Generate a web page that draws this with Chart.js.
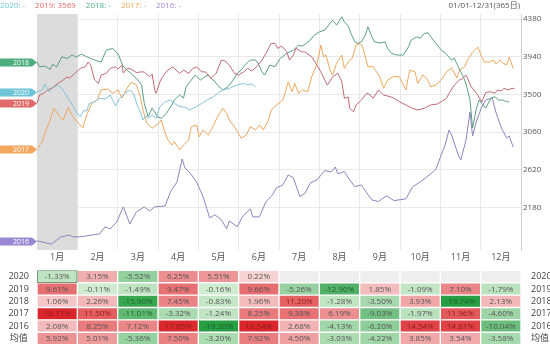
<!DOCTYPE html>
<html>
<head>
<meta charset="utf-8">
<script src="https://cdn.jsdelivr.net/npm/chart.js@4.4.1/dist/chart.umd.min.js"></script>
<style>
body { margin: 0; background: #fff; font-family: "Open Sans", "Noto Sans CJK SC", sans-serif; }
#wrap { position: relative; width: 550px; height: 352px; overflow: hidden; }
#legend { position: absolute; left: 0; top: 0; font-size: 8px; line-height: 10px; white-space: nowrap; }
#legend span { margin-right: 10px; }
#range { position: absolute; right: 30px; top: 0; font-size: 8px; line-height: 10px; color: #555; }
#lineChart { position: absolute; left: 0; top: 0; }
#tableChart { position: absolute; left: 0; top: 263px; }
</style>
</head>
<body>
<div id="wrap">
  <canvas id="lineChart" width="550" height="263"></canvas>
  <canvas id="tableChart" width="550" height="89"></canvas>
  <div id="legend"></div>
  <div id="range">01/01-12/31(365日)</div>
</div>
<script>
const monthLabels = ['1月', '2月', '3月', '4月', '5月', '6月', '7月', '8月', '9月', '10月', '11月', '12月'];
const yTicks = [2180, 2620, 3060, 3500, 3940, 4380];
const hoverDay = 365;

// day index within the year -> close
const days2020 = [0,4,6,9,12,16,19,23,27,30,33,36,38,40,44,48,52,56,60,63,67,71,74,77,79,81,83,85,88,91,94,98,102,105,109,113,117,119,122,126,130,135,138,142,147,153,158,161,164,167];
const vals2020 = [3531,3551,3621,3531,3574,3609,3571,3473,3376,3297,3239,3317,3305,3395,3414,3454,3446,3492,3364,3446,3512,3551,3504,3356,3297,3200,3247,3220,3259,3220,3356,3414,3434,3395,3356,3352,3317,3337,3356,3395,3434,3473,3512,3551,3571,3609,3629,3609,3621,3589];

const days2019 = [0,2,5,8,12,16,19,23,25,29,33,37,39,41,44,47,49,53,56,60,62,65,66,69,72,76,80,82,86,88,90,91,94,96,100,104,107,109,112,116,119,122,126,129,133,137,141,144,147,151,154,158,161,164,168,172,175,179,182,184,187,191,193,196,198,202,205,210,214,217,220,222,226,230,233,235,238,239,242,244,248,252,254,257,261,265,270,273,277,282,287,291,296,301,306,309,313,315,319,323,325,328,332,336,340,343,347,350,352,355,357,360,363,365];
const vals2019 = [3395,3492,3512,3551,3580,3629,3656,3703,3691,3746,3804,3823,3878,3843,3668,3629,3726,3746,3804,3823,3796,3843,3749,3804,3796,3755,3764,3761,3706,3738,3551,3512,3648,3706,3784,3823,3773,3746,3784,3746,3804,3819,3764,3761,3687,3749,3901,3889,3843,3746,3726,3764,3804,3773,3823,3901,3979,4096,4096,4038,4065,3998,3901,3960,4038,3998,3995,3940,3843,3764,3668,3609,3706,3746,3648,3454,3469,3337,3297,3376,3434,3512,3504,3454,3551,3492,3473,3454,3414,3376,3337,3317,3337,3376,3387,3414,3454,3512,3609,3668,3679,3726,3589,3512,3411,3522,3531,3512,3551,3539,3571,3551,3571,3569];

const days2018 = [0,2,6,10,12,15,19,23,27,30,34,38,44,49,53,58,62,66,71,76,80,82,85,88,90,92,95,99,103,105,109,112,114,118,121,125,128,131,133,136,138,142,146,150,153,156,159,163,167,169,172,174,178,182,186,191,196,200,203,209,212,216,220,224,226,229,233,235,238,240,243,245,248,251,253,256,258,262,266,268,271,275,280,284,286,290,293,296,299,301,305,309,313,317,319,322,326,328,331,333,336,338,341,343,347,350,353,356,359,361];
const vals2018 = [3881,3823,3831,3793,3854,3819,3940,3921,3960,3936,3971,3940,3901,3878,4018,4038,3971,3823,3755,3687,3609,3395,3239,3340,3297,3235,3220,3279,3376,3434,3492,3457,3589,3668,3726,3668,3703,3726,3687,3648,3609,3551,3589,3668,3746,3784,3843,3901,3901,3866,3764,3726,3843,3823,3921,3979,4018,4076,4065,4135,4193,4232,4252,4330,4368,4310,4407,4348,4298,4213,4115,4096,4115,4193,4290,4173,4115,4100,4115,4038,3979,3960,3960,4056,4135,4173,4155,4213,4220,4173,4096,4018,3971,3901,3924,3823,3703,3621,3434,3107,3340,3434,3376,3337,3454,3473,3434,3434,3414,3414];

const days2017 = [0,4,7,10,13,18,20,24,27,34,35,38,42,46,49,54,58,62,65,69,72,76,79,81,84,88,93,95,98,100,103,105,109,112,116,118,122,124,127,131,135,138,142,145,147,150,154,156,160,163,167,170,173,177,179,183,188,192,195,197,200,203,207,210,214,217,219,221,224,226,229,233,235,239,241,244,247,249,253,257,262,265,268,272,277,282,285,289,291,295,298,301,305,309,313,317,321,323,327,329,333,337,340,342,346,349,351,354,356,359,361,364];
const vals2017 = [2862,2947,3084,3200,3340,3224,3200,3352,3247,3122,3107,3259,3399,3434,3551,3562,3512,3551,3457,3574,3644,3609,3469,3317,3162,3103,3162,3200,3045,2967,2908,2947,2850,2908,2967,3122,3142,3005,3084,3025,3142,3239,3337,3279,3200,3142,3045,2987,3025,3122,3084,3142,3084,3200,3317,3376,3434,3644,3531,3629,3512,3551,3531,3706,3854,4076,3940,3959,3784,3726,3863,3959,3804,3901,3924,4076,4096,4053,3823,3823,3706,3571,3668,3706,3706,3551,3784,3764,3629,3726,3687,3589,3609,3668,3764,3808,3691,3784,3823,3901,3995,4053,3940,3881,3878,3901,3854,3901,3866,3843,3936,3804];

const days2016 = [0,11,18,25,27,33,48,52,56,61,66,71,76,82,86,90,98,102,107,111,113,117,122,127,132,136,141,145,147,153,157,163,165,170,175,180,183,188,192,196,201,205,209,214,220,225,228,230,235,239,243,248,252,256,261,267,273,282,287,293,298,303,305,309,312,315,317,322,324,328,331,333,336,340,343,348,351,355,359,361,364];
const vals2016 = [1787,1749,1830,1857,1834,1834,1869,1951,1927,2009,2184,1986,2126,2184,2137,2184,2196,2359,2476,2745,2640,2581,2476,2301,2056,2091,2032,1927,2021,1951,2067,2161,2067,2067,2243,2324,2406,2441,2558,2523,2304,2348,2465,2500,2608,2593,2651,2570,2597,2500,2421,2441,2348,2266,2246,2313,2258,2278,2418,2476,2535,2597,2628,2792,2908,3084,3025,2792,2733,2967,3294,3013,3189,3352,3434,3457,3282,3107,2990,3013,2885];

// monthly change table
const rowLabels = ['2020', '2019', '2018', '2017', '2016', '均值'];
const ret2020 = [-1.33, 3.15, -5.52, 6.25, 5.51, 0.22, null, null, null, null, null, null];
const ret2019 = [9.61, -0.11, -1.49, 9.47, -0.16, 9.66, -5.26, -12.90, 1.85, -1.09, 7.10, -1.79];
const ret2018 = [1.06, 2.26, -15.90, 7.45, -0.83, 1.96, 11.20, -1.28, -3.50, 3.93, -19.74, 2.13];
const ret2017 = [18.17, 11.50, -11.01, -3.32, -1.24, 8.25, 9.38, 6.19, -9.03, -1.97, 11.96, -4.60];
const ret2016 = [2.08, 8.25, 7.12, 17.65, -19.30, 19.54, 2.68, -4.13, -6.20, 14.54, 14.81, -10.04];
const retAvg = [5.92, 5.01, -5.36, 7.50, -3.20, 7.92, 4.50, -3.03, -4.22, 3.85, 3.54, -3.58];

const series = [
    { year: '2020', days: days2020, vals: vals2020, line: '#86c3d8', tag: '#6fc4d8' },
    { year: '2019', days: days2019, vals: vals2019, line: '#bf6a72', tag: '#e06a6a' },
    { year: '2018', days: days2018, vals: vals2018, line: '#5c9d86', tag: '#4eae7e' },
    { year: '2017', days: days2017, vals: vals2017, line: '#eea75d', tag: '#f4a65c' },
    { year: '2016', days: days2016, vals: vals2016, line: '#8e84bd', tag: '#9a88d4' }
];
const tableRows = [ret2020, ret2019, ret2018, ret2017, ret2016, retAvg];
const FONT = '"Open Sans", "Noto Sans CJK SC", sans-serif';

// header legend
document.getElementById('legend').innerHTML = series.map(s => {
    const last = s.days[s.days.length - 1] === hoverDay ? s.vals[s.vals.length - 1] : '-';
    return `<span style="color:${s.tag}">${s.year}: ${last}</span>`;
}).join('');

const bandPlugin = {
    id: 'band',
    beforeDatasetsDraw(chart) {
        const { ctx, chartArea: a } = chart;
        const xm = chart.scales.xm;
        const w = (a.right - a.left) / monthLabels.length;
        const cx = xm.getPixelForValue(0);
        ctx.save();
        ctx.fillStyle = '#dcdcdc';
        ctx.fillRect(cx - w / 2, a.top, w, a.bottom - a.top);
        ctx.restore();
    }
};

const tagPlugin = {
    id: 'tags',
    afterDraw(chart) {
        const { ctx } = chart;
        const y = chart.scales.y;
        chart.data.datasets.forEach((ds) => {
            const py = Math.round(y.getPixelForValue(ds.data[0].y)) + 0.5;
            const h = 8, w = 32, tip = 5;
            ctx.save();
            ctx.fillStyle = ds.tagColor;
            ctx.beginPath();
            ctx.moveTo(0, py - h / 2);
            ctx.lineTo(w, py - h / 2);
            ctx.lineTo(w + tip, py);
            ctx.lineTo(w, py + h / 2);
            ctx.lineTo(0, py + h / 2);
            ctx.closePath();
            ctx.fill();
            ctx.fillStyle = '#fff';
            ctx.font = '7px ' + FONT;
            ctx.textAlign = 'right';
            ctx.textBaseline = 'middle';
            ctx.fillText(ds.label, w - 3, py);
            ctx.restore();
        });
    }
};

new Chart(document.getElementById('lineChart'), {
    type: 'line',
    data: {
        datasets: series.map(s => ({
            label: s.year,
            data: s.days.map((d, i) => ({ x: d, y: s.vals[i] })),
            borderColor: s.line,
            tagColor: s.tag,
            borderWidth: 1,
            pointRadius: 0,
            tension: 0,
            xAxisID: 'x',
            yAxisID: 'y'
        }))
    },
    options: {
        responsive: false,
        animation: false,
        layout: { padding: { left: 37, top: 14, right: 0, bottom: 0 } },
        plugins: { legend: { display: false }, tooltip: { enabled: false } },
        scales: {
            x: { type: 'linear', min: 0, max: 370, display: false },
            xm: {
                type: 'category',
                labels: monthLabels,
                position: 'bottom',
                offset: true,
                grid: { offset: true, color: '#e9e9e9', drawTicks: false },
                border: { display: false },
                ticks: { color: '#555', font: { size: 9, family: FONT }, padding: 2, maxRotation: 0, autoSkip: false },
                afterFit: (s) => { s.height = 13; }
            },
            y: {
                position: 'right',
                min: 1680,
                max: 4440,
                afterBuildTicks: (s) => { s.ticks = yTicks.map(v => ({ value: v })); },
                grid: { color: '#e9e9e9', drawTicks: false },
                border: { color: '#d0d0d0' },
                ticks: { color: '#555', font: { size: 8, family: FONT }, padding: 2, callback: (v) => String(v) },
                afterFit: (s) => { s.width = 29; }
            }
        }
    },
    plugins: [bandPlugin, tagPlugin]
});

function mix(a, b, t) {
    return a.map((v, i) => Math.round(v + (b[i] - v) * t));
}
function cellColor(v) {
    if (v === null) return 'rgb(238,238,238)';
    const t = Math.pow(Math.min(Math.abs(v) / 18, 1), 0.85);
    const c = v >= 0 ? mix([248, 214, 214], [218, 38, 42], t) : mix([210, 237, 210], [40, 158, 66], t);
    return `rgb(${c.join(',')})`;
}
function textColor(v) {
    if (v === null) return '#555';
    const t = Math.min(Math.abs(v) / 18, 1);
    if (t < 0.6) return '#555';
    return v >= 0 ? '#8c1c1c' : '#1d5f2c';
}

const cellTextPlugin = {
    id: 'cellText',
    afterDatasetsDraw(chart) {
        const { ctx } = chart;
        ctx.save();
        ctx.font = '8px ' + FONT;
        ctx.textAlign = 'center';
        ctx.textBaseline = 'middle';
        chart.data.datasets.forEach((ds, m) => {
            chart.getDatasetMeta(m).data.forEach((bar, r) => {
                const v = tableRows[r][m];
                if (v === null) return;
                const p = bar.getCenterPoint();
                ctx.fillStyle = textColor(v);
                ctx.fillText(v.toFixed(2) + '%', p.x, p.y + 0.5);
            });
        });
        ctx.restore();
    }
};

new Chart(document.getElementById('tableChart'), {
    type: 'bar',
    data: {
        labels: rowLabels,
        datasets: monthLabels.map((ml, m) => ({
            label: ml,
            data: rowLabels.map(() => [m, m + 1]),
            backgroundColor: tableRows.map(row => cellColor(row[m])),
            borderColor: tableRows.map((row, r) => (r === 0 && m === 0) ? '#4f6f55' : '#ffffff'),
            borderWidth: 1,
            borderSkipped: false,
            barPercentage: 1,
            categoryPercentage: 1,
            grouped: false
        }))
    },
    options: {
        indexAxis: 'y',
        responsive: false,
        animation: false,
        layout: { padding: 0 },
        plugins: { legend: { display: false }, tooltip: { enabled: false } },
        scales: {
            x: { type: 'linear', min: 0, max: 12, display: false },
            y: {
                type: 'category',
                position: 'left',
                grid: { display: false },
                border: { display: false },
                ticks: { color: '#444', font: { size: 9, family: FONT }, crossAlign: 'center', padding: 0, autoSkip: false },
                afterFit: (s) => { s.width = 37; }
            },
            y2: {
                type: 'category',
                labels: rowLabels,
                position: 'right',
                offset: true,
                grid: { display: false },
                border: { display: false },
                ticks: { color: '#444', font: { size: 9, family: FONT }, crossAlign: 'near', padding: 2, autoSkip: false },
                afterFit: (s) => { s.width = 29; }
            }
        }
    },
    plugins: [cellTextPlugin]
});
</script>
</body>
</html>
